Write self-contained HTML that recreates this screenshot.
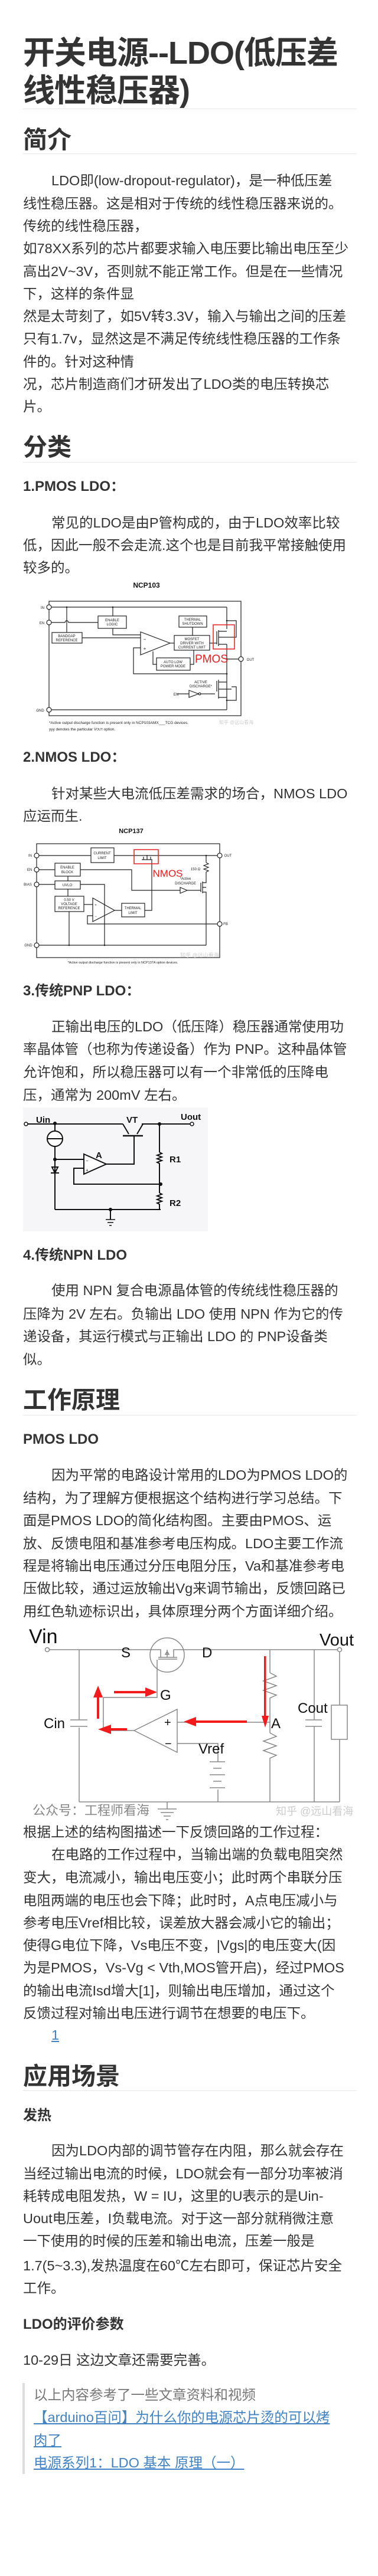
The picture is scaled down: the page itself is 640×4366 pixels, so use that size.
<!DOCTYPE html>
<html><head><meta charset="utf-8">
<style>
html,body{margin:0;padding:0;background:#fff;}
body{width:640px;height:4366px;position:relative;overflow:hidden;font-family:"Liberation Sans","Noto Sans CJK SC",sans-serif;color:#333;}
.l{position:absolute;left:39px;white-space:nowrap;font-size:23.5px;line-height:38px;height:38px;}
.i{left:87px;}
.t{position:absolute;left:39px;white-space:nowrap;font-size:54px;font-weight:bold;line-height:64px;letter-spacing:-1px;}
.h2{position:absolute;left:39px;white-space:nowrap;font-size:41px;font-weight:bold;line-height:50px;}
.h4{position:absolute;left:39px;white-space:nowrap;font-size:24px;font-weight:bold;line-height:34px;}
.bd{position:absolute;left:39px;width:565px;height:1px;background:#e8e8e8;}
a{color:#4183c4;text-decoration:underline;}
.q{color:#777;left:57px;}
svg{position:absolute;left:0;top:0;}
</style></head><body>

<div class="t" style="top:58px">开关电源--LDO(低压差</div>
<div class="t" style="top:122px">线性稳压器)</div>
<div class="bd" style="top:184px"></div>

<div class="h2" style="top:212px">简介</div>
<div class="bd" style="top:260px"></div>
<div class="l i" style="top:287px">LDO即(low-dropout-regulator)，是一种低压差</div>
<div class="l" style="top:326px">线性稳压器。这是相对于传统的线性稳压器来说的。</div>
<div class="l" style="top:364px">传统的线性稳压器，</div>
<div class="l" style="top:402px">如78XX系列的芯片都要求输入电压要比输出电压至少</div>
<div class="l" style="top:441px">高出2V~3V，否则就不能正常工作。但是在一些情况</div>
<div class="l" style="top:479px">下，这样的条件显</div>
<div class="l" style="top:517px">然是太苛刻了，如5V转3.3V，输入与输出之间的压差</div>
<div class="l" style="top:555px">只有1.7v，显然这是不满足传统线性稳压器的工作条</div>
<div class="l" style="top:594px">件的。针对这种情</div>
<div class="l" style="top:632px">况，芯片制造商们才研发出了LDO类的电压转换芯</div>
<div class="l" style="top:670px">片。</div>

<div class="h2" style="top:733px">分类</div>
<div class="bd" style="top:783px"></div>
<div class="h4" style="top:808px">1.PMOS LDO：</div>
<div class="l i" style="top:867px">常见的LDO是由P管构成的，由于LDO效率比较</div>
<div class="l" style="top:905px">低，因此一般不会走流.这个也是目前我平常接触使用</div>
<div class="l" style="top:943px">较多的。</div>

<div class="h4" style="top:1267px">2.NMOS LDO：</div>
<div class="l i" style="top:1326px">针对某些大电流低压差需求的场合，NMOS LDO</div>
<div class="l" style="top:1364px">应运而生.</div>

<div class="h4" style="top:1663px">3.传统PNP LDO：</div>
<div class="l i" style="top:1721px">正输出电压的LDO（低压降）稳压器通常使用功</div>
<div class="l" style="top:1759px">率晶体管（也称为传递设备）作为 PNP。这种晶体管</div>
<div class="l" style="top:1798px">允许饱和，所以稳压器可以有一个非常低的压降电</div>
<div class="l" style="top:1837px">压，通常为 200mV 左右。</div>

<div class="h4" style="top:2111px">4.传统NPN LDO</div>
<div class="l i" style="top:2168px">使用 NPN 复合电源晶体管的传统线性稳压器的</div>
<div class="l" style="top:2208px">压降为 2V 左右。负输出 LDO 使用 NPN 作为它的传</div>
<div class="l" style="top:2246px">递设备，其运行模式与正输出 LDO 的 PNP设备类</div>
<div class="l" style="top:2285px">似。</div>

<div class="h2" style="top:2348px">工作原理</div>
<div class="bd" style="top:2398px"></div>
<div class="h4" style="top:2423px">PMOS LDO</div>
<div class="l i" style="top:2481px">因为平常的电路设计常用的LDO为PMOS LDO的</div>
<div class="l" style="top:2520px">结构，为了理解方便根据这个结构进行学习总结。下</div>
<div class="l" style="top:2558px">面是PMOS LDO的简化结构图。主要由PMOS、运</div>
<div class="l" style="top:2597px">放、反馈电阻和基准参考电压构成。LDO主要工作流</div>
<div class="l" style="top:2635px">程是将输出电压通过分压电阻分压，Va和基准参考电</div>
<div class="l" style="top:2673px">压做比较，通过运放输出Vg来调节输出，反馈回路已</div>
<div class="l" style="top:2712px">用红色轨迹标识出，具体原理分两个方面详细介绍。</div>

<div class="l" style="top:3086px">根据上述的结构图描述一下反馈回路的工作过程：</div>
<div class="l i" style="top:3124px">在电路的工作过程中，当输出端的负载电阻突然</div>
<div class="l" style="top:3163px">变大，电流减小，输出电压变小；此时两个串联分压</div>
<div class="l" style="top:3202px">电阻两端的电压也会下降；此时时，A点电压减小与</div>
<div class="l" style="top:3240px">参考电压Vref相比较，误差放大器会减小它的输出；</div>
<div class="l" style="top:3278px">使得G电位下降，Vs电压不变，|Vgs|的电压变大(因</div>
<div class="l" style="top:3316px">为是PMOS，Vs-Vg &lt; Vth,MOS管开启)，经过PMOS</div>
<div class="l" style="top:3355px">的输出电流Isd增大[1]，则输出电压增加，通过这个</div>
<div class="l" style="top:3393px">反馈过程对输出电压进行调节在想要的电压下。</div>
<div class="l i" style="top:3430px"><a>1</a></div>

<div class="h2" style="top:3494px">应用场景</div>
<div class="bd" style="top:3543px"></div>
<div class="h4" style="top:3569px">发热</div>
<div class="l i" style="top:3626px">因为LDO内部的调节管存在内阻，那么就会存在</div>
<div class="l" style="top:3665px">当经过输出电流的时候，LDO就会有一部分功率被消</div>
<div class="l" style="top:3703px">耗转成电阻发热，W = IU，这里的U表示的是Uin-</div>
<div class="l" style="top:3741px">Uout电压差，I负载电流。对于这一部分就稍微注意</div>
<div class="l" style="top:3779px">一下使用的时候的压差和输出电流，压差一般是</div>
<div class="l" style="top:3821px">1.7(5~3.3),发热温度在60℃左右即可，保证芯片安全</div>
<div class="l" style="top:3859px">工作。</div>
<div class="h4" style="top:3923px">LDO的评价参数</div>
<div class="l" style="top:3981px">10-29日 这边文章还需要完善。</div>

<div style="position:absolute;left:38px;top:4039px;width:4px;height:154px;background:#ddd"></div>
<div class="l q" style="top:4040px">以上内容参考了一些文章资料和视频</div>
<div class="l q" style="top:4078px"><a>【arduino百问】为什么你的电源芯片烫的可以烤</a></div>
<div class="l q" style="top:4117px"><a>肉了</a></div>
<div class="l q" style="top:4155px"><a>电源系列1：LDO 基本 原理（一）</a></div>

<svg width="640" height="4366" viewBox="0 0 640 4366" xmlns="http://www.w3.org/2000/svg" font-family="Liberation Sans, Noto Sans CJK SC, sans-serif">
<!-- NCP103 -->
<g stroke="#222" stroke-width="1.2" fill="none">
<text x="248" y="996" font-size="12" font-weight="bold" fill="#111" stroke="none" text-anchor="middle">NCP103</text>
<rect x="83" y="1019" width="325" height="194"/>
<line x1="87" y1="1029" x2="384" y2="1029"/>
<line x1="384" y1="1029" x2="384" y2="1066"/>
<line x1="113" y1="1029" x2="113" y2="1072"/>
<line x1="191" y1="1029" x2="191" y2="1044"/>
<path d="M87 1055 H110 a3 3 0 0 1 6 0 H166"/>
<rect x="166" y="1044" width="48" height="21"/>
<rect x="88" y="1072" width="51" height="18"/>
<rect x="303" y="1044" width="47" height="19"/>
<rect x="295" y="1077" width="60" height="25"/>
<rect x="265" y="1115" width="57" height="21"/>
<path d="M191 1065 V1076 H238"/>
<line x1="139" y1="1081" x2="238" y2="1081"/>
<polygon points="238,1071 288,1090 238,1110"/>
<line x1="288" y1="1090" x2="295" y2="1090"/>
<line x1="326" y1="1063" x2="326" y2="1077"/>
<path d="M328 1102 V1126 H322"/>
<path d="M265 1126 H259 V1104"/>
<path d="M238 1098 H226 V1142 H384"/>
<line x1="355" y1="1090" x2="367" y2="1090"/>
<line x1="367" y1="1070" x2="367" y2="1092"/>
<line x1="370" y1="1068" x2="370" y2="1095"/>
<path d="M370 1070 H384 M370 1080 H392 M370 1092 H384"/>
<path d="M384 1052 H400 V1080 H392"/>
<line x1="384" y1="1092" x2="384" y2="1203"/>
<line x1="384" y1="1117" x2="405" y2="1117"/>
<line x1="87" y1="1203" x2="384" y2="1203"/>
<path d="M355 1176 H364 M367 1154 V1172 M370 1152 V1184 M370 1156 H384 M370 1168 H392 M370 1182 H384 M384 1187 H400 V1164 H392"/>
<line x1="300" y1="1176" x2="320" y2="1176"/>
<polygon points="320,1170 336,1176 320,1182"/>
<circle cx="338" cy="1176" r="1.8"/>
<line x1="340" y1="1176" x2="355" y2="1176"/>
<circle cx="83" cy="1029" r="4" fill="#fff"/>
<circle cx="83" cy="1055" r="4" fill="#fff"/>
<circle cx="83" cy="1203" r="4" fill="#fff"/>
<circle cx="408" cy="1117" r="4" fill="#fff"/>
<rect x="361" y="1059" width="36" height="41" stroke="#e52020" stroke-width="1.5"/>
</g>
<g fill="#222" font-size="6" text-anchor="middle">
<circle cx="113" cy="1029" r="1.3"/><circle cx="191" cy="1029" r="1.3"/><circle cx="384" cy="1052" r="1.3"/><circle cx="384" cy="1117" r="1.3"/><circle cx="384" cy="1142" r="1.3"/><circle cx="384" cy="1187" r="1.3"/>
<text x="72" y="1032">IN</text><text x="71" y="1058">EN</text><text x="68" y="1206">GND</text><text x="424" y="1120">OUT</text>
<text x="190" y="1053">ENABLE</text><text x="190" y="1060">LOGIC</text>
<text x="113" y="1080">BANDGAP</text><text x="113" y="1087">REFERENCE</text>
<text x="326" y="1052">THERMAL</text><text x="326" y="1059">SHUTDOWN</text>
<text x="325" y="1085">MOSFET</text><text x="325" y="1092">DRIVER WITH</text><text x="325" y="1099">CURRENT LIMIT</text>
<text x="293" y="1124">AUTO LOW</text><text x="293" y="1131">POWER MODE</text>
<text x="340" y="1158">ACTIVE</text><text x="340" y="1165">DISCHARGE*</text>
<text x="298" y="1179">EN</text>
<text x="245" y="1086" font-size="8">−</text><text x="245" y="1102" font-size="8">+</text>
<text x="83" y="1227" text-anchor="start" font-size="6.5">*Active output discharge function is present only in NCP103AMX___TCG devices.</text>
<text x="83" y="1238" text-anchor="start" font-size="6.5">yyy denotes the particular V<tspan font-size="5">OUT</tspan> option.</text>
<text x="330" y="1123" text-anchor="start" font-size="19" fill="#e52020">PMOS</text>
<text x="400" y="1227" font-size="8" fill="#ccc">知乎 @远山看海</text>
</g>

<!-- NCP137 -->
<g stroke="#222" stroke-width="1.2" fill="none">
<text x="222" y="1412" font-size="11" font-weight="bold" fill="#111" stroke="none" text-anchor="middle">NCP137</text>
<rect x="62" y="1430" width="310" height="193"/>
<line x1="66" y1="1450" x2="154" y2="1450"/>
<rect x="154" y="1437" width="39" height="25"/>
<line x1="193" y1="1450" x2="368" y2="1450"/>
<path d="M240 1457 H258 M243 1457 V1452 M255 1457 V1452 M249 1457 V1449"/>
<line x1="66" y1="1474" x2="93" y2="1474"/>
<rect x="93" y="1463" width="43" height="22"/>
<line x1="66" y1="1499" x2="93" y2="1499"/>
<rect x="93" y="1493" width="43" height="14"/>
<rect x="93" y="1519" width="49" height="26"/>
<line x1="115" y1="1485" x2="115" y2="1493"/>
<line x1="115" y1="1507" x2="115" y2="1519"/>
<path d="M136 1474 H223 V1509 H305"/>
<path d="M136 1499 H177 V1602"/>
<line x1="117" y1="1545" x2="117" y2="1602"/>
<line x1="142" y1="1533" x2="157" y2="1533"/>
<polygon points="157,1522 194,1543 157,1562"/>
<line x1="194" y1="1543" x2="206" y2="1543"/>
<rect x="206" y="1531" width="39" height="23"/>
<path d="M245 1543 H257 V1458"/>
<path d="M157 1552 H148 V1566 H368"/>
<line x1="66" y1="1602" x2="349" y2="1602"/>
<line x1="349" y1="1450" x2="349" y2="1462"/>
<path d="M349 1462 l4 2 l-8 3 l8 3 l-8 3 l8 3 l-4 2 V1493"/>
<path d="M340 1496 V1512 M343 1494 V1514 M343 1496 H349 V1493 M343 1504 H349 M343 1512 H349 V1602"/>
<polygon points="305,1504 317,1509 305,1514"/>
<line x1="317" y1="1509" x2="340" y2="1509"/>
<circle cx="62" cy="1450" r="4" fill="#fff"/><circle cx="62" cy="1474" r="4" fill="#fff"/><circle cx="62" cy="1499" r="4" fill="#fff"/><circle cx="62" cy="1602" r="4" fill="#fff"/>
<circle cx="372" cy="1450" r="4" fill="#fff"/><circle cx="372" cy="1566" r="4" fill="#fff"/>
<rect x="227" y="1440" width="41" height="24" stroke="#e52020" stroke-width="1.5"/>
</g>
<g fill="#222" font-size="6" text-anchor="middle">
<circle cx="349" cy="1450" r="1.3"/><circle cx="117" cy="1602" r="1.3"/><circle cx="177" cy="1602" r="1.3"/>
<text x="51" y="1452">IN</text><text x="50" y="1476">EN</text><text x="47" y="1501">BIAS</text><text x="48" y="1604">GND</text>
<text x="386" y="1452">OUT</text><text x="382" y="1568">FB</text>
<text x="173" y="1448">CURRENT</text><text x="173" y="1456">LIMIT</text>
<text x="114" y="1472">ENABLE</text><text x="114" y="1480">BLOCK</text>
<text x="114" y="1502">UVLO</text>
<text x="117" y="1527">0.50 V</text><text x="117" y="1534">VOLTAGE</text><text x="117" y="1541">REFERENCE</text>
<text x="225" y="1541">THERMAL</text><text x="225" y="1549">LIMIT</text>
<text x="331" y="1475">150 Ω</text>
<text x="314" y="1491">*Active</text><text x="314" y="1499">DISCHARGE</text>
<text x="162" y="1536">+</text><text x="162" y="1555">−</text>
<text x="208" y="1633" font-size="5.5">*Active output discharge function is present only in NCP137A option devices.</text>
<text x="284" y="1486" font-size="17" fill="#e52020">NMOS</text>
<text x="338" y="1622" font-size="9" fill="#ccc">知乎 @远山看海</text>
</g>

<!-- PNP -->
<rect x="39" y="1877" width="313" height="210" fill="#f6f6f8"/>
<g stroke="#111" stroke-width="2" fill="none">
<line x1="47" y1="1905" x2="208" y2="1905"/>
<circle cx="44" cy="1905" r="3" fill="#fff" stroke-width="1.5"/>
<path d="M208 1905 L218 1922 M242 1905 L232 1922"/>
<line x1="208" y1="1925" x2="242" y2="1925" stroke-width="2.5"/>
<line x1="240" y1="1905" x2="322" y2="1905"/>
<circle cx="325" cy="1905" r="3" fill="#fff" stroke-width="1.5"/>
<line x1="93" y1="1905" x2="93" y2="2050"/>
<circle cx="93" cy="1930" r="13" fill="#fff"/>
<line x1="80" y1="1930" x2="106" y2="1930"/>
<line x1="93" y1="1965" x2="142" y2="1965"/>
<path d="M88 1978 H98 L93 1988 Z M86 1988 H100"/>
<polygon points="142,1956 180,1973 142,1990" fill="#fff"/>
<path d="M180 1973 H227 V1925"/>
<path d="M142 1980 H125 V2007 H272"/>
<line x1="270" y1="1905" x2="270" y2="1953"/>
<path d="M270 1953 l4 2 l-8 3 l8 3 l-8 3 l8 3 l-8 3 l4 2 V2022"/>
<path d="M270 2022 l4 2 l-8 3 l8 3 l-8 3 l8 3 l-8 3 l4 2 V2050"/>
<line x1="93" y1="2050" x2="272" y2="2050"/>
<line x1="187" y1="2050" x2="187" y2="2067"/>
<path d="M179 2067 H195 M182 2072 H192 M185 2077 H189" stroke-width="1.5"/>
</g>
<g fill="#111" font-weight="bold">
<circle cx="93" cy="1904" r="3"/><circle cx="93" cy="1965" r="3"/><circle cx="270" cy="1905" r="3"/><circle cx="272" cy="2007" r="3"/><circle cx="187" cy="2050" r="3"/>
<text x="61" y="1903" font-size="15">Uin</text>
<text x="214" y="1903" font-size="15">VT</text>
<text x="306" y="1898" font-size="15">Uout</text>
<text x="162" y="1963" font-size="15">A</text>
<text x="287" y="1970" font-size="15">R1</text>
<text x="287" y="2044" font-size="15">R2</text>
<text x="145" y="1970" font-size="8" font-weight="normal">−</text>
<text x="145" y="1986" font-size="8" font-weight="normal">+</text>
</g>

<!-- PMOS LDO structure -->
<g stroke="#888" stroke-width="1.5" fill="none">
<line x1="83" y1="2796" x2="257" y2="2796"/>
<line x1="310" y1="2796" x2="572" y2="2796"/>
<circle cx="80" cy="2796" r="3.5" fill="#fff"/>
<circle cx="575" cy="2796" r="3.5" fill="#fff"/>
<circle cx="283" cy="2805" r="29"/>
<path d="M257 2796 H272 V2809 M294 2809 V2796 H310 M268 2809 H300 M268 2812 H300 M283 2796 V2809 M280 2804 L283 2799 L286 2804 Z"/>
<path d="M266 2813 V2877 H175 V2933"/>
<line x1="134" y1="2796" x2="134" y2="2915"/>
<line x1="134" y1="2928" x2="134" y2="3054"/>
<line x1="119" y1="2915" x2="148" y2="2915"/>
<line x1="119" y1="2926" x2="148" y2="2926"/>
<polygon points="227,2933 300,2897 300,2970"/>
<line x1="175" y1="2933" x2="227" y2="2933"/>
<line x1="300" y1="2919" x2="457" y2="2919"/>
<path d="M300 2955 H369 V2986"/>
<path d="M355 2986 H381 M361 2997 H375 M355 3008 H381 M361 3019 H375 M355 3030 H381 M369 3033 V3054"/>
<line x1="457" y1="2796" x2="457" y2="2835"/>
<path d="M457 2835 l11 6 l-22 8 l22 8 l-22 8 l22 8 l-11 5 V2937"/>
<path d="M457 2937 l11 6 l-22 8 l22 8 l-22 8 l22 8 l-11 5 V3054"/>
<line x1="532" y1="2796" x2="532" y2="2915"/>
<line x1="517" y1="2915" x2="545" y2="2915"/>
<line x1="517" y1="2926" x2="545" y2="2926"/>
<line x1="532" y1="2926" x2="532" y2="3054"/>
<line x1="575" y1="2800" x2="575" y2="2890"/>
<rect x="561" y="2890" width="27" height="58"/>
<line x1="575" y1="2948" x2="575" y2="3054"/>
<line x1="134" y1="3054" x2="575" y2="3054"/>
<line x1="283" y1="3054" x2="283" y2="3066"/>
<path d="M267 3066 H299 M272 3072 H294 M277 3078 H289 M281 3084 H285"/>
</g>
<g fill="#f21a1a">
<rect x="447" y="2807" width="3.5" height="105"/><polygon points="443,2908 455,2908 449,2928"/>
<rect x="330" y="2916" width="88" height="4"/><polygon points="332,2910 332,2926 311,2918"/>
<rect x="185" y="2929" width="30" height="4"/><polygon points="188,2923 188,2939 166,2931"/>
<rect x="164" y="2875" width="4" height="38"/><polygon points="158,2877 174,2877 166,2857"/>
<rect x="193" y="2866" width="55" height="4"/><polygon points="246,2860 246,2876 266,2868"/>
</g>
<g fill="#111">
<text x="49" y="2785" font-size="34">Vin</text>
<text x="541" y="2789" font-size="29">Vout</text>
<text x="205" y="2809" font-size="24">S</text>
<text x="342" y="2809" font-size="24">D</text>
<text x="271" y="2881" font-size="24">G</text>
<text x="74" y="2929" font-size="24">Cin</text>
<text x="459" y="2929" font-size="24">A</text>
<text x="504" y="2903" font-size="24">Cout</text>
<text x="336" y="2972" font-size="24">Vref</text>
<text x="278" y="2926" font-size="20">+</text>
<text x="279" y="2962" font-size="20">−</text>
<text x="55" y="3076" font-size="22" fill="#888">公众号：工程师看海</text>
<text x="467" y="3076" font-size="18" fill="#ccc">知乎 @远山看海</text>
</g>
</svg>
</body></html>
